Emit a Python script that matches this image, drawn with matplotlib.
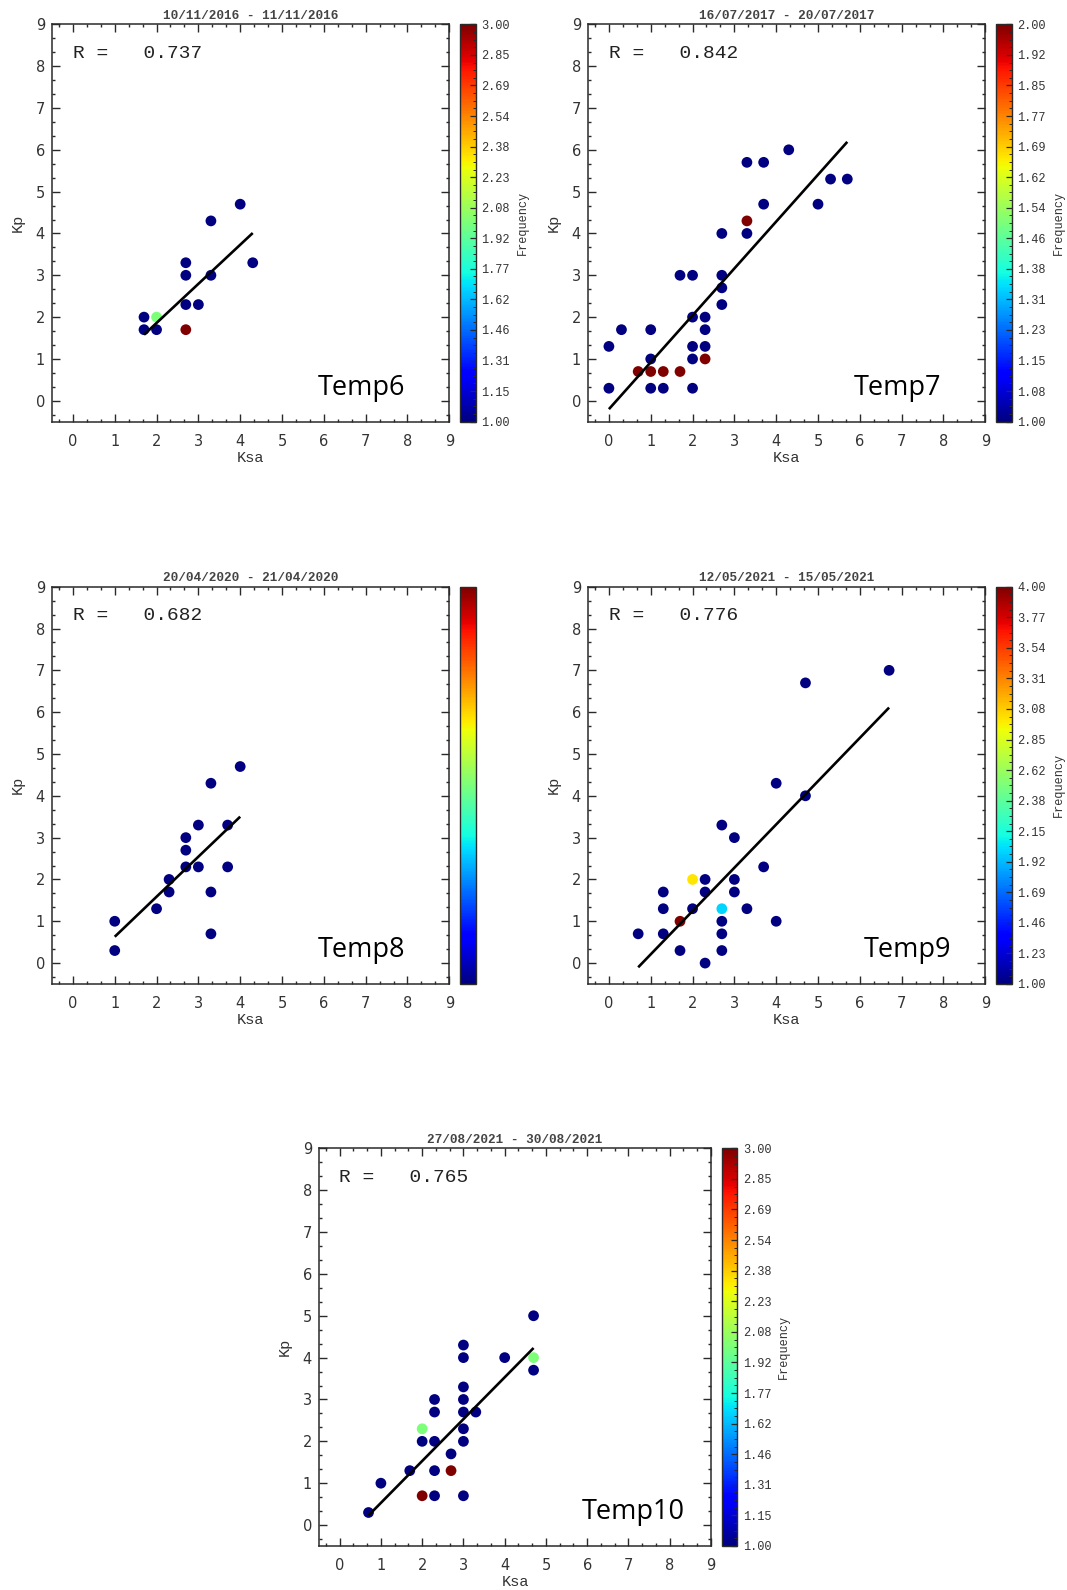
import numpy as np
import matplotlib
matplotlib.use("Agg")
import matplotlib.pyplot as plt
from matplotlib.ticker import MultipleLocator, FixedLocator, NullLocator
from matplotlib.colors import Normalize
from matplotlib import cm

# ---------------- data ----------------
titles = ["10/11/2016 - 11/11/2016", "16/07/2017 - 20/07/2017",
          "20/04/2020 - 21/04/2020", "12/05/2021 - 15/05/2021",
          "27/08/2021 - 30/08/2021"]
names = ["Temp6", "Temp7", "Temp8", "Temp9", "Temp10"]
r_values = [0.737, 0.842, 0.682, 0.776, 0.765]

# Linear fit (slope, intercept) for each event
fit_slope = [0.935, 1.121, 0.957, 1.035, 1.000]
fit_intercept = [-0.01, -0.20, -0.327, -0.825, -0.47]

ksa6 = [1.7, 1.7, 2.0, 2.0, 2.7, 2.7, 2.7, 2.7, 3.0, 3.3, 3.3, 4.0, 4.3]
kp6 = [2.0, 1.7, 2.0, 1.7, 3.3, 3.0, 2.3, 1.7, 2.3, 4.3, 3.0, 4.7, 3.3]
freq6 = [1, 1, 2, 1, 1, 1, 1, 3, 1, 1, 1, 1, 1]

ksa7 = [0.0, 0.0, 0.3, 0.7, 1.0, 1.0, 1.0, 1.0, 1.3, 1.3, 1.7, 1.7,
        2.0, 2.0, 2.0, 2.0, 2.0, 2.3, 2.3, 2.3, 2.3, 2.7, 2.7, 2.7, 2.7,
        3.3, 3.3, 3.3, 3.7, 3.7, 4.3, 5.0, 5.3, 5.7]
kp7 = [1.3, 0.3, 1.7, 0.7, 1.7, 1.0, 0.7, 0.3, 0.7, 0.3, 3.0, 0.7,
       3.0, 2.0, 1.3, 1.0, 0.3, 2.0, 1.7, 1.3, 1.0, 4.0, 3.0, 2.7, 2.3,
       5.7, 4.3, 4.0, 5.7, 4.7, 6.0, 4.7, 5.3, 5.3]
freq7 = [1, 1, 1, 2, 1, 1, 2, 1, 2, 1, 1, 2,
         1, 1, 1, 1, 1, 1, 1, 1, 2, 1, 1, 1, 1,
         1, 2, 1, 1, 1, 1, 1, 1, 1]

ksa8 = [1.0, 1.0, 2.0, 2.3, 2.3, 2.7, 2.7, 2.7, 3.0, 3.0, 3.3, 3.3, 3.3,
        3.7, 3.7, 4.0]
kp8 = [1.0, 0.3, 1.3, 2.0, 1.7, 3.0, 2.7, 2.3, 3.3, 2.3, 4.3, 1.7, 0.7,
       3.3, 2.3, 4.7]
freq8 = [1] * 16

ksa9 = [0.7, 1.3, 1.3, 1.3, 1.7, 1.7, 2.0, 2.0, 2.3, 2.3, 2.3, 2.7, 2.7,
        2.7, 2.7, 2.7, 3.0, 3.0, 3.0, 3.3, 3.7, 4.0, 4.0, 4.7, 4.7, 6.7]
kp9 = [0.7, 1.7, 1.3, 0.7, 1.0, 0.3, 2.0, 1.3, 2.0, 1.7, 0.0, 3.3, 1.3,
       1.0, 0.7, 0.3, 3.0, 2.0, 1.7, 1.3, 2.3, 4.3, 1.0, 6.7, 4.0, 7.0]
freq9 = [1, 1, 1, 1, 4, 1, 3, 1, 1, 1, 1, 1, 2,
         1, 1, 1, 1, 1, 1, 1, 1, 1, 1, 1, 1, 1]

ksa10 = [0.7, 1.0, 1.7, 2.0, 2.0, 2.0, 2.3, 2.3, 2.3, 2.3, 2.3, 2.7, 2.7,
         3.0, 3.0, 3.0, 3.0, 3.0, 3.0, 3.0, 3.0, 3.3, 4.0, 4.7, 4.7, 4.7]
kp10 = [0.3, 1.0, 1.3, 2.3, 2.0, 0.7, 3.0, 2.7, 2.0, 1.3, 0.7, 1.7, 1.3,
        4.3, 4.0, 3.3, 3.0, 2.7, 2.3, 2.0, 0.7, 2.7, 4.0, 5.0, 4.0, 3.7]
freq10 = [1, 1, 1, 2, 1, 3, 1, 1, 1, 1, 1, 1, 3,
          1, 1, 1, 1, 1, 1, 1, 1, 1, 1, 1, 2, 1]

ksa_all = [ksa6, ksa7, ksa8, ksa9, ksa10]
kp_all = [kp6, kp7, kp8, kp9, kp10]
freq_all = [freq6, freq7, freq8, freq9, freq10]

# ---------------- layout (pixel boxes: x0, y0, x1, y1) ----------------
W, H = 1067, 1590
axes_px = [(52, 24.3, 449.3, 421.7), (588, 24.3, 985.3, 421.7),
           (52, 586.7, 449.3, 984), (588, 586.7, 985.3, 984),
           (319, 1148.3, 711, 1546)]
cbar_px = [(460, 24.3, 475.7, 421.7), (996, 24.3, 1012, 421.7),
           (460, 586.7, 475.7, 984), (996, 586.7, 1012, 984),
           (721.7, 1148.3, 737.3, 1546)]
name_x = [0.67, 0.67, 0.67, 0.693, 0.67]


def rect(box):
    x0, y0, x1, y1 = box
    return [x0 / W, 1 - y1 / H, (x1 - x0) / W, (y1 - y0) / H]


MONO = ["Liberation Mono", "DejaVu Sans Mono"]
TICKFONT = "DejaVu Sans"
DARK = "#2a2a2a"

fig = plt.figure(figsize=(W / 100, H / 100), dpi=100)
cmap = matplotlib.colormaps["jet"]

for i in range(5):
    ax = fig.add_axes(rect(axes_px[i]))
    cax = fig.add_axes(rect(cbar_px[i]))
    ksa = np.array(ksa_all[i])
    kp = np.array(kp_all[i])
    fr = np.array(freq_all[i], dtype=float)

    vmin, vmax = fr.min(), fr.max()
    flat = vmax == vmin
    norm = Normalize(vmin, vmin + 1 if flat else vmax)

    ax.scatter(ksa, kp, c=fr, cmap=cmap, norm=norm, s=60,
               linewidths=0, zorder=2)
    xl = np.array([ksa.min(), ksa.max()])
    ax.plot(xl, fit_slope[i] * xl + fit_intercept[i], color="black",
            lw=1.9, zorder=3, solid_capstyle="butt")

    ax.set_xlim(-0.5, 9)
    ax.set_ylim(-0.5, 9)
    ax.xaxis.set_major_locator(MultipleLocator(1))
    ax.yaxis.set_major_locator(MultipleLocator(1))
    ax.xaxis.set_minor_locator(MultipleLocator(1 / 3))
    ax.yaxis.set_minor_locator(MultipleLocator(1 / 3))
    ax.tick_params(which="both", direction="in", top=True, right=True,
                   colors=DARK, width=1.0)
    ax.tick_params(which="major", length=5.5)
    ax.tick_params(which="minor", length=2.5)
    ax.tick_params(axis="x", which="major", pad=9, labelsize=10.5)
    ax.tick_params(axis="y", which="major", pad=5, labelsize=10.5)
    for lab in ax.get_xticklabels() + ax.get_yticklabels():
        lab.set_fontfamily(TICKFONT)
        lab.set_color("#333333")
    for sp in ax.spines.values():
        sp.set_color(DARK)
        sp.set_linewidth(1.1)

    ax.set_title(titles[i], fontfamily=MONO, fontsize=9.2,
                 fontweight="bold", color="#444444", pad=4)
    ax.set_xlabel("Ksa", fontfamily=MONO, fontsize=11, color="#333333",
                  labelpad=1)
    ax.set_ylabel("Kp", fontfamily=MONO, fontsize=11, color="#333333",
                  labelpad=8)
    ax.text(0.052, 0.915, "R =   %.3f" % r_values[i], transform=ax.transAxes,
            fontfamily=MONO, fontsize=14, color="#222222",
            ha="left", va="baseline")
    ax.text(name_x[i], 0.067, names[i], transform=ax.transAxes,
            fontfamily="Open Sans", fontsize=19.5, color="black",
            ha="left", va="baseline")

    sm = cm.ScalarMappable(norm=norm, cmap=cmap)
    cb = fig.colorbar(sm, cax=cax)
    cb.outline.set_edgecolor(DARK)
    cb.outline.set_linewidth(1.0)
    if flat:
        cb.set_ticks([])
        cax.yaxis.set_minor_locator(NullLocator())
    else:
        ticks = np.linspace(vmin, vmax, 14)
        cb.set_ticks(ticks)
        cb.set_ticklabels(["%.2f" % t for t in ticks])
        step = (vmax - vmin) / 13
        cax.yaxis.set_minor_locator(
            FixedLocator(np.arange(vmin, vmax + 1e-9, step / 4)))
        cax.tick_params(which="major", direction="in", length=4, width=0.9,
                        colors=DARK, labelsize=8.6, pad=4)
        cax.tick_params(which="minor", direction="in", length=2, width=0.7,
                        colors=DARK)
        for lab in cax.get_yticklabels():
            lab.set_fontfamily(MONO)
            lab.set_color("#333333")
        cb.set_label("Frequency", fontfamily=MONO, fontsize=8.6,
                     color="#333333", labelpad=5)

fig.savefig("out.png", dpi=100)
